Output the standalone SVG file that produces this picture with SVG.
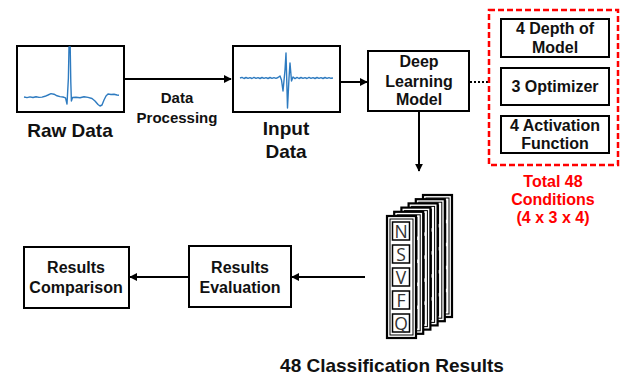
<svg xmlns="http://www.w3.org/2000/svg" xmlns:xlink="http://www.w3.org/1999/xlink" width="624" height="378" viewBox="0 0 624 378">
<style>
.box{fill:#fff;stroke:#000;stroke-width:2}
.t{font-family:"Liberation Sans",Arial,sans-serif;font-weight:bold;fill:#111;text-anchor:middle}
.t15{font-size:15px}
.t16{font-size:16px}
.t19{font-size:19px}
.red{fill:#ff0000}
.ln{stroke:#000;stroke-width:2;fill:none}
.wave{fill:none;stroke:#2e7bc0;stroke-width:1.4;stroke-linejoin:round}
.cell{fill:#fff;stroke:#000;stroke-width:1.5}
.lt{font-family:"Open Sans","Liberation Sans",sans-serif;font-size:17.5px;fill:#333;text-anchor:middle}
</style>
<defs>
<marker id="ah" viewBox="0 0 10 10" refX="9" refY="5" markerWidth="4" markerHeight="4" orient="auto-start-reverse" markerUnits="strokeWidth">
<path d="M0,0 L10,5 L0,10 z" fill="#000"/>
</marker>
<g id="card">
<rect x="0" y="0" width="29" height="122" fill="#fff" stroke="#000" stroke-width="2.2"/>
<rect x="3" y="3" width="23" height="116" fill="#fff" stroke="#000" stroke-width="1"/>
<rect class="cell" x="5.5" y="6" width="17" height="18"/>
<rect class="cell" x="5.5" y="29" width="17" height="18"/>
<rect class="cell" x="5.5" y="52" width="17" height="18"/>
<rect class="cell" x="5.5" y="75" width="17" height="18"/>
<rect class="cell" x="5.5" y="98" width="17" height="18"/>
</g>
</defs>

<g id="connectors">
<line class="ln" x1="124" y1="79" x2="231" y2="79" marker-end="url(#ah)"/>
<line class="ln" x1="340" y1="82" x2="367" y2="82" marker-end="url(#ah)"/>
<line x1="470" y1="82" x2="489" y2="82" stroke="#000" stroke-width="2" stroke-dasharray="2,2"/>
<line class="ln" x1="419" y1="111" x2="419" y2="171" marker-end="url(#ah)"/>
<line class="ln" x1="365" y1="277" x2="292" y2="277" marker-end="url(#ah)"/>
<line class="ln" x1="189" y1="277" x2="130" y2="277" marker-end="url(#ah)"/>
</g>

<g id="raw-data">
<rect class="box" x="17" y="46" width="107" height="66"/>
<path class="wave" d="M24,97 L27,97.6 L30,96.9 L33,97.5 L36,96.8 L39,97.4 L42,97.1 L45,96.3 L48,95 L51,93.6 L54,94.2 L57,95.8 L60,96.6 L63,97 L65.5,97.8 L67,104 L68.4,78 L69,47 L70.2,47 L70.8,82 L71.4,101 L72.5,97.5 L76,97.3 L80,97.8 L84,96.8 L88,97.4 L92,98.5 L95,101 L98,104.5 L100,106 L102,105 L104,100 L106,96 L108,94 L111,94.5 L114,94.2 L117,95 L119,95.3"/>
<text class="t t19" x="70" y="137">Raw Data</text>
</g>

<text class="t t15" x="177" y="103">Data</text>
<text class="t t15" x="177" y="123">Processing</text>

<g id="input-data">
<rect class="box" x="233" y="46" width="107" height="66"/>
<path class="wave" d="M240,78 L242,77.4 L244,78.5 L246,77.5 L248,78.4 L250,77.6 L252,78.5 L254,77.4 L256,78.4 L258,77.6 L260,78.5 L262,77.5 L264,78.4 L266,77.6 L268,78.5 L270,77.5 L272,78.4 L274,77.6 L276,78.3 L278,77.5 L280,76 L281.5,80 L283,91 L285,70 L286,53 L287.5,108 L289,78 L290,63 L291.5,81 L293,77 L295,78.6 L297,77.4 L299,78.5 L301,77.5 L303,78.4 L305,77.6 L307,78.5 L309,77.4 L311,78.4 L313,77.6 L315,78.5 L317,77.5 L319,78.4 L321,77.6 L323,78.5 L325,77.5 L327,78.4 L329,77.6 L331,78.3 L333,78"/>
<text class="t t19" x="286" y="135">Input</text>
<text class="t t19" x="286" y="158">Data</text>
</g>

<g id="deep-learning-model">
<rect class="box" x="368" y="51" width="101" height="60"/>
<text class="t t16" x="419" y="67">Deep</text>
<text class="t t16" x="419" y="87">Learning</text>
<text class="t t16" x="419" y="105">Model</text>
</g>

<g id="conditions">
<rect x="489" y="10" width="129" height="155" fill="none" stroke="#ff0000" stroke-width="2.5" stroke-dasharray="6,3"/>
<text class="t t16 red" x="553" y="187">Total 48</text>
<text class="t t16 red" x="553" y="205">Conditions</text>
<text class="t t16 red" x="553" y="223">(4 x 3 x 4)</text>
</g>

<g id="depth-of-model">
<rect class="box" x="501" y="19" width="108" height="38"/>
<text class="t t16" x="555" y="34">4 Depth of</text>
<text class="t t16" x="555" y="53">Model</text>
</g>

<g id="optimizer">
<rect class="box" x="501" y="68" width="108" height="37"/>
<text class="t t16" x="555" y="92">3 Optimizer</text>
</g>

<g id="activation-function">
<rect class="box" x="501" y="116" width="108" height="37"/>
<text class="t t16" x="555" y="131">4 Activation</text>
<text class="t t16" x="555" y="149">Function</text>
</g>

<g id="classification-results">
<use xlink:href="#card" x="423" y="195"/>
<use xlink:href="#card" x="415.8" y="199.2"/>
<use xlink:href="#card" x="408.6" y="203.4"/>
<use xlink:href="#card" x="401.4" y="207.6"/>
<use xlink:href="#card" x="394.2" y="211.8"/>
<use xlink:href="#card" x="387" y="216"/>
<text class="lt" x="401" y="238">N</text>
<text class="lt" x="401" y="261">S</text>
<text class="lt" x="401" y="284">V</text>
<text class="lt" x="401" y="307">F</text>
<text class="lt" x="401" y="330">Q</text>
<text class="t t19" x="392" y="372">48 Classification Results</text>
</g>

<g id="results-evaluation">
<rect class="box" x="189" y="246" width="102" height="61"/>
<text class="t t16" x="240" y="273">Results</text>
<text class="t t16" x="240" y="293">Evaluation</text>
</g>

<g id="results-comparison">
<rect class="box" x="24" y="247" width="105" height="61"/>
<text class="t t16" x="76" y="273">Results</text>
<text class="t t16" x="76" y="293">Comparison</text>
</g>
</svg>
